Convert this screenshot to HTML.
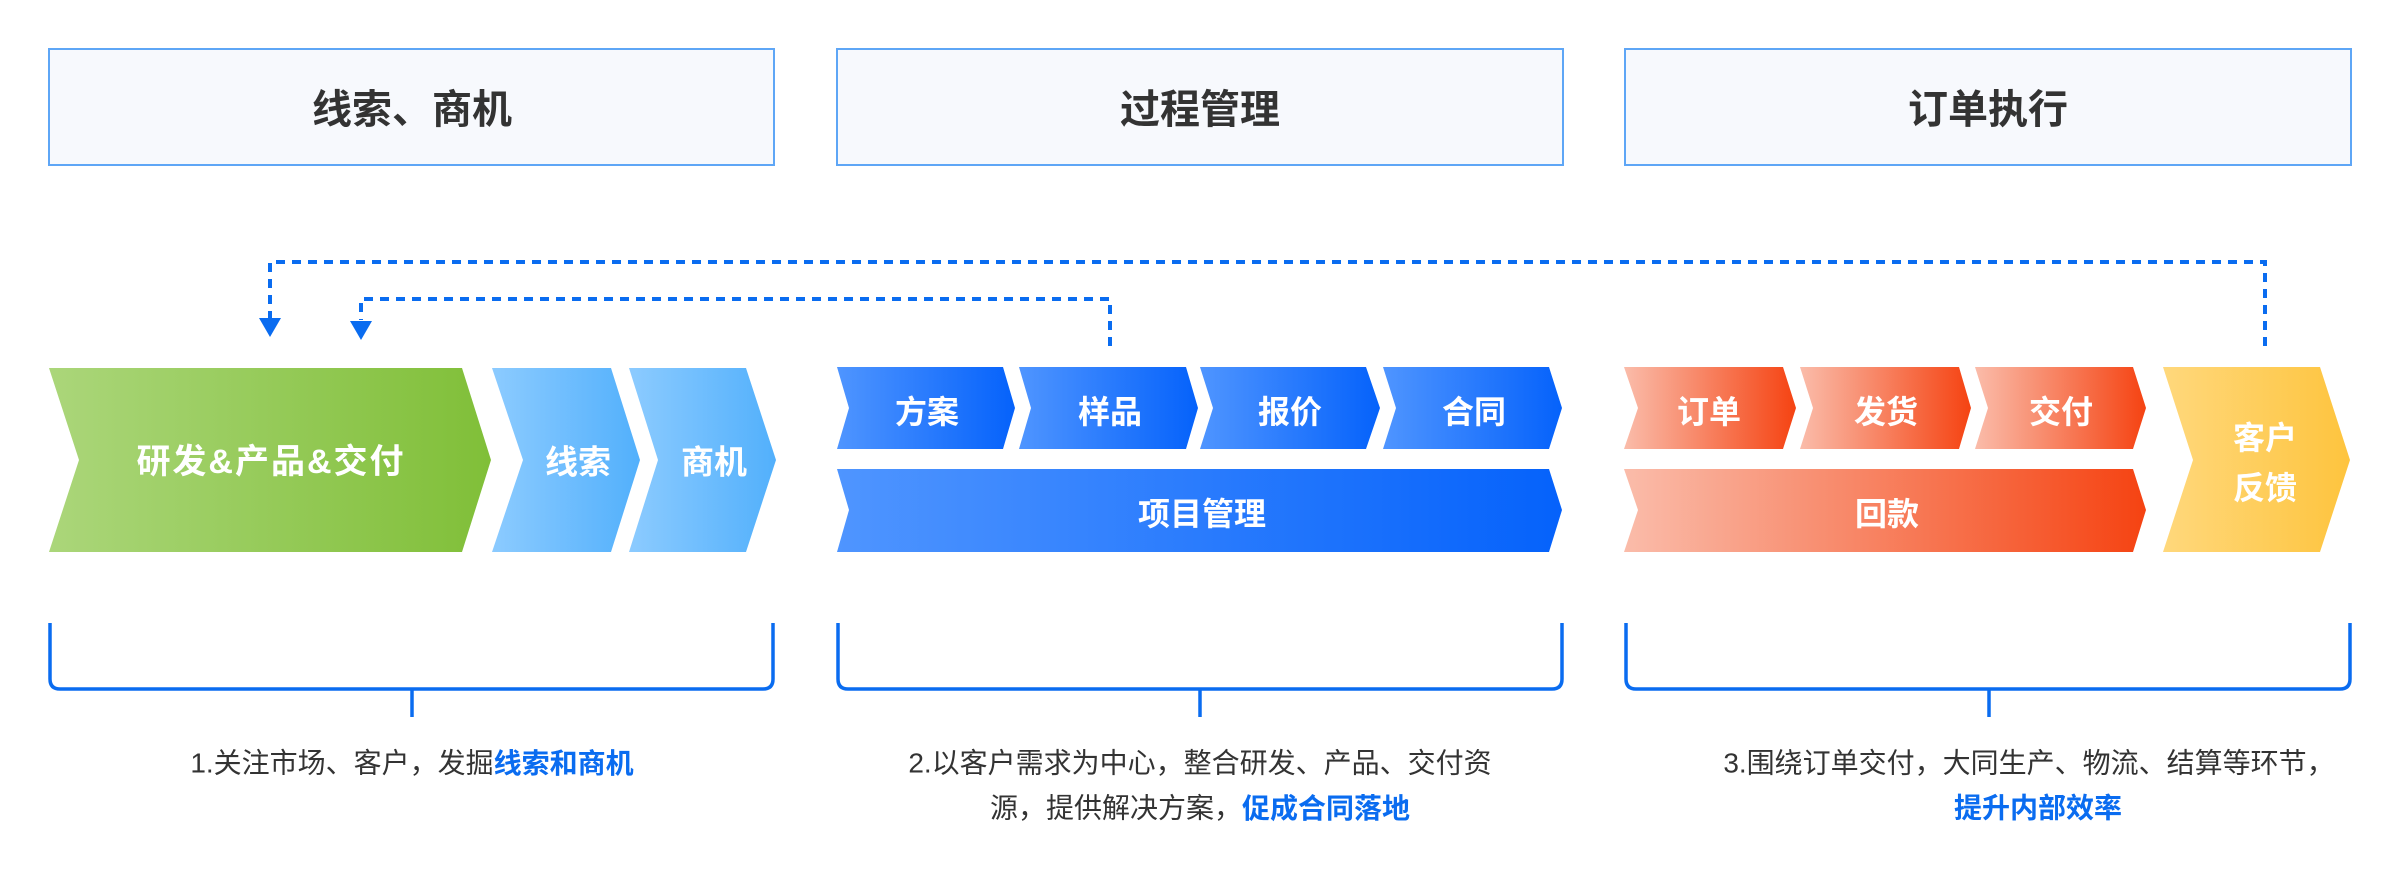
<!DOCTYPE html>
<html><head><meta charset="utf-8"><style>
html,body{margin:0;padding:0;background:#fff;}
svg{display:block;}
text{font-family:"Liberation Sans","Noto Sans CJK SC",sans-serif;}
</style></head><body>
<svg width="2400" height="886" viewBox="0 0 2400 886" xmlns="http://www.w3.org/2000/svg">
<defs>
<linearGradient id="g" x1="0" x2="1" y1="0" y2="0"><stop offset="0" stop-color="#abd67a"/><stop offset="1" stop-color="#80bf38"/></linearGradient>
<linearGradient id="lb" x1="0" x2="1" y1="0" y2="0"><stop offset="0" stop-color="#8ccbff"/><stop offset="1" stop-color="#52b0fc"/></linearGradient>
<linearGradient id="b" x1="0" x2="1" y1="0" y2="0"><stop offset="0" stop-color="#4f95ff"/><stop offset="1" stop-color="#0562fb"/></linearGradient>
<linearGradient id="o" x1="0" x2="1" y1="0" y2="0"><stop offset="0" stop-color="#fabcaa"/><stop offset="1" stop-color="#f54312"/></linearGradient>
<linearGradient id="y" x1="0" x2="1" y1="0" y2="0"><stop offset="0" stop-color="#ffd87c"/><stop offset="1" stop-color="#fec43e"/></linearGradient>
</defs>

<g fill="#f7f9fd" stroke="#5ea6f6" stroke-width="2">
<rect x="49" y="49" width="725" height="116"/>
<rect x="837" y="49" width="726" height="116"/>
<rect x="1625" y="49" width="726" height="116"/>
</g>
<g font-size="40" font-weight="bold" fill="#333" text-anchor="middle" dominant-baseline="central">
<text x="412" y="110">线索、商机</text>
<text x="1200" y="110">过程管理</text>
<text x="1988" y="110">订单执行</text>
</g>

<g fill="none" stroke="#0a6cf0" stroke-width="4" stroke-dasharray="9 7">
<path d="M2265 346 V262 H270 V318"/>
<path d="M1110 346 V299 H361 V320"/>
</g>
<g fill="#0a6cf0">
<path d="M259 318 L281 318 L270 337 Z"/>
<path d="M350 321 L372 321 L361 340 Z"/>
</g>

<path d="M49 368 H462 L491 460 L462 552 H49 L79 460 Z" fill="url(#g)"/>
<path d="M492 368 H611 L640 460 L611 552 H492 L523 460 Z" fill="url(#lb)"/>
<path d="M629 368 H746 L776 460 L746 552 H629 L658 460 Z" fill="url(#lb)"/>

<path d="M837 367 H1003 L1015 408 L1003 449 H837 L849 408 Z" fill="url(#b)"/>
<path d="M1019 367 H1186 L1198 408 L1186 449 H1019 L1031 408 Z" fill="url(#b)"/>
<path d="M1200 367 H1366 L1380 408 L1366 449 H1200 L1213 408 Z" fill="url(#b)"/>
<path d="M1383 367 H1549 L1562 408 L1549 449 H1383 L1396 408 Z" fill="url(#b)"/>
<path d="M837 469 H1549 L1562 510 L1549 552 H837 L849 510 Z" fill="url(#b)"/>

<path d="M1624 367 H1783 L1796 408 L1783 449 H1624 L1638 408 Z" fill="url(#o)"/>
<path d="M1800 367 H1959 L1971 408 L1959 449 H1800 L1813 408 Z" fill="url(#o)"/>
<path d="M1975 367 H2133 L2146 408 L2133 449 H1975 L1988 408 Z" fill="url(#o)"/>
<path d="M1624 469 H2133 L2146 510 L2133 552 H1624 L1638 510 Z" fill="url(#o)"/>

<path d="M2163 367 H2320 L2350 460 L2320 552 H2163 L2193 460 Z" fill="url(#y)"/>

<g fill="#fff" font-weight="bold" text-anchor="middle" dominant-baseline="central">
<text x="271" y="462" font-size="34" letter-spacing="2">研发&amp;产品&amp;交付</text>
<text x="578" y="462" font-size="33">线索</text>
<text x="714" y="462" font-size="33">商机</text>
<text x="927" y="412" font-size="32">方案</text>
<text x="1110" y="412" font-size="32">样品</text>
<text x="1290" y="412" font-size="32">报价</text>
<text x="1474" y="412" font-size="32">合同</text>
<text x="1202" y="514" font-size="32">项目管理</text>
<text x="1709" y="412" font-size="32">订单</text>
<text x="1886" y="412" font-size="32">发货</text>
<text x="2061" y="412" font-size="32">交付</text>
<text x="1887" y="514" font-size="32">回款</text>
<text x="2265" y="438" font-size="32">客户</text>
<text x="2265" y="488" font-size="32">反馈</text>
</g>

<g fill="none" stroke="#0a6cf0" stroke-width="3.5">
<path d="M50 623 V679 Q50 689 60 689 H763 Q773 689 773 679 V623"/>
<path d="M838 623 V679 Q838 689 848 689 H1552 Q1562 689 1562 679 V623"/>
<path d="M1626 623 V679 Q1626 689 1636 689 H2340 Q2350 689 2350 679 V623"/>
<path d="M412 689 V717"/>
<path d="M1200 689 V717"/>
<path d="M1989 689 V717"/>
</g>

<g font-size="28" fill="#333" text-anchor="middle" dominant-baseline="central">
<text x="412" y="763">1.关注市场、客户，发掘<tspan fill="#0a6cf0" font-weight="bold">线索和商机</tspan></text>
<text x="1200" y="763">2.以客户需求为中心，整合研发、产品、交付资</text>
<text x="1200" y="808">源，提供解决方案，<tspan fill="#0a6cf0" font-weight="bold">促成合同落地</tspan></text>
<text x="2029" y="763">3.围绕订单交付，大同生产、物流、结算等环节，</text>
<text x="2038" y="808" fill="#0a6cf0" font-weight="bold">提升内部效率</text>
</g>
</svg>
</body></html>
